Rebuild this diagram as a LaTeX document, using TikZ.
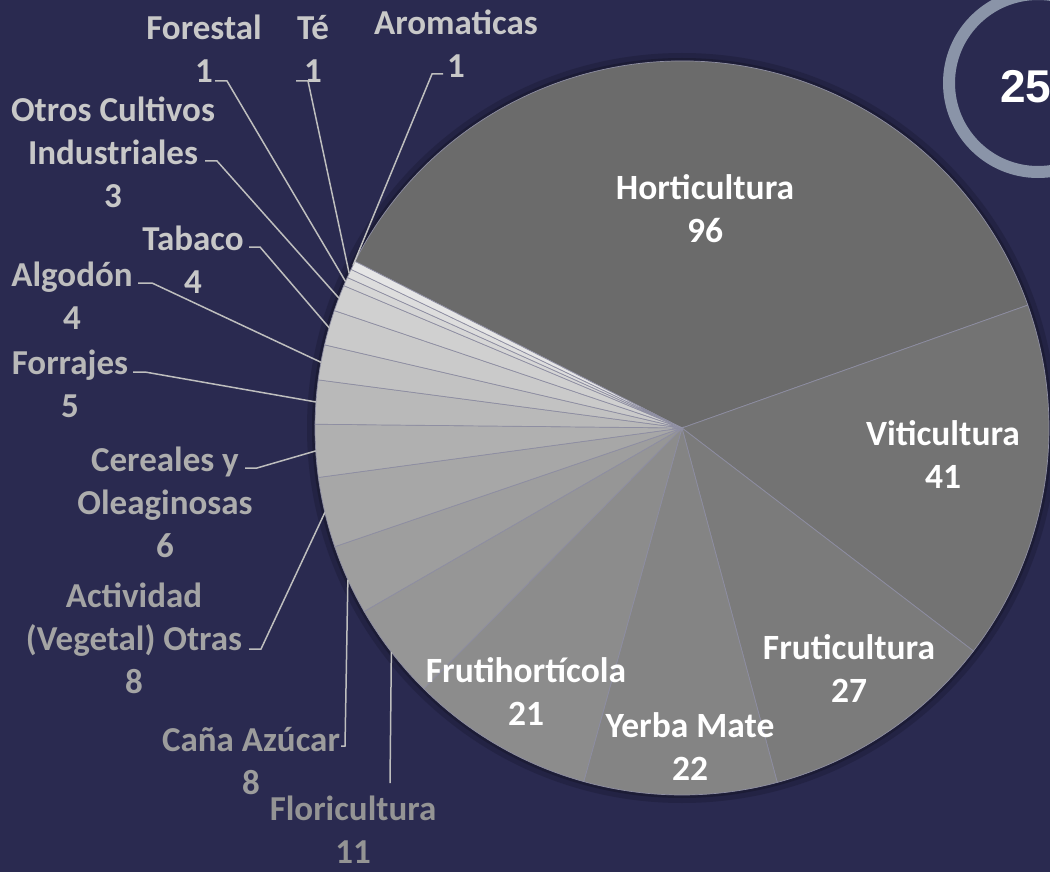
\documentclass[tikz,border=0pt]{standalone}
\usepackage{fontspec}
\setmainfont{Carlito}
\newfontfamily\ringfont{Liberation Sans}
\definecolor{bg}{HTML}{2A2A50}
\definecolor{ringc}{HTML}{8A94A8}
\definecolor{sepc}{HTML}{8E8EA2}
\definecolor{leadc}{HTML}{BEBEBE}
% slice greys, darkest first
\definecolor{g0}{HTML}{6B6B6B}
\definecolor{g1}{HTML}{737373}
\definecolor{g2}{HTML}{7B7B7B}
\definecolor{g3}{HTML}{848484}
\definecolor{g4}{HTML}{8C8C8C}
\definecolor{g5}{HTML}{969696}
\definecolor{g6}{HTML}{9E9E9E}
\definecolor{g7}{HTML}{A7A7A7}
\definecolor{g8}{HTML}{B0B0B0}
\definecolor{g9}{HTML}{B9B9B9}
\definecolor{g10}{HTML}{C2C2C2}
\definecolor{g11}{HTML}{CACACA}
\definecolor{g12}{HTML}{D0D0D0}
\definecolor{g13}{HTML}{D6D6D6}
\definecolor{g14}{HTML}{DDDDDD}
\definecolor{g15}{HTML}{E6E6E6}
% outside label greys
\definecolor{lbA}{HTML}{C8C8C8}
\definecolor{lbB}{HTML}{BEBEBE}
\definecolor{lbC}{HTML}{B8B8B8}
\definecolor{lbD}{HTML}{ADADAD}
\definecolor{lbE}{HTML}{A4A4A4}
\definecolor{lbF}{HTML}{9C9C9C}
\definecolor{lbG}{HTML}{949494}
\begin{document}
\begin{tikzpicture}[x=1pt,y=-1pt,
    slice/.style={draw=sepc,line width=0.7pt},
    inlbl/.style={text=white,font=\bfseries\fontsize{35.5}{43}\selectfont,align=center,inner sep=0pt},
    outlbl/.style={font=\bfseries\fontsize{35}{43}\selectfont,align=center,inner sep=0pt},
    leader/.style={draw=leadc,line width=1.5pt}]
  \useasboundingbox (0,0) rectangle (1050,872);
  \fill[bg] (0,0) rectangle (1050,872);
  % total ring
  \draw[ringc,line width=12pt] (1038,83) circle[radius=89];
  \node[anchor=west,inner sep=0pt,text=white,font=\ringfont\bfseries\fontsize{46}{46}\selectfont] (tot) at (1000,87) {25};
  % pie
  \coordinate (c) at (682,428);
  \fill[black,opacity=.15] (c) circle[radius=375];
  \fill[black,opacity=.2] (c) circle[radius=370];
  \draw[slice,fill=g0] (c) -- ++(-153:367) arc[start angle=-153,end angle=-19.564,radius=367] -- cycle;
  \draw[slice,fill=g1] (c) -- ++(-19.564:367) arc[start angle=-19.564,end angle=37.425,radius=367] -- cycle;
  \draw[slice,fill=g2] (c) -- ++(37.425:367) arc[start angle=37.425,end angle=74.954,radius=367] -- cycle;
  \draw[slice,fill=g3] (c) -- ++(74.954:367) arc[start angle=74.954,end angle=105.533,radius=367] -- cycle;
  \draw[slice,fill=g4] (c) -- ++(105.533:367) arc[start angle=105.533,end angle=134.722,radius=367] -- cycle;
  \draw[slice,fill=g5] (c) -- ++(134.722:367) arc[start angle=134.722,end angle=150.012,radius=367] -- cycle;
  \draw[slice,fill=g6] (c) -- ++(150.012:367) arc[start angle=150.012,end angle=161.131,radius=367] -- cycle;
  \draw[slice,fill=g7] (c) -- ++(161.131:367) arc[start angle=161.131,end angle=172.251,radius=367] -- cycle;
  \draw[slice,fill=g8] (c) -- ++(172.251:367) arc[start angle=172.251,end angle=180.591,radius=367] -- cycle;
  \draw[slice,fill=g9] (c) -- ++(180.591:367) arc[start angle=180.591,end angle=187.541,radius=367] -- cycle;
  \draw[slice,fill=g10] (c) -- ++(187.541:367) arc[start angle=187.541,end angle=193.1,radius=367] -- cycle;
  \draw[slice,fill=g11] (c) -- ++(193.1:367) arc[start angle=193.1,end angle=198.66,radius=367] -- cycle;
  \draw[slice,fill=g12] (c) -- ++(198.66:367) arc[start angle=198.66,end angle=202.83,radius=367] -- cycle;
  \draw[slice,fill=g13] (c) -- ++(202.83:367) arc[start angle=202.83,end angle=204.22,radius=367] -- cycle;
  \draw[slice,fill=g14] (c) -- ++(204.22:367) arc[start angle=204.22,end angle=205.61,radius=367] -- cycle;
  \draw[slice,fill=g15] (c) -- ++(205.61:367) arc[start angle=205.61,end angle=207,radius=367] -- cycle;
  % labels inside
  \node[inlbl] (horti) at (705,209) {Horticultura\\96};
  \node[inlbl] (viti) at (943,455) {Viticultura\\41};
  \node[inlbl] (fruti) at (849,669) {Fruticultura\\27};
  \node[inlbl] (yerba) at (690,747) {Yerba Mate\\22};
  \node[inlbl] (frutihort) at (526,692) {Frutihortícola\\21};
  % labels outside
  \node[outlbl,text=lbA] (forestal) at (204,49) {Forestal\\1};
  \node[outlbl,text=lbA] (te) at (313,49) {Té\\1};
  \node[outlbl,text=lbA] (aroma) at (456,44) {Aromaticas\\1};
  \node[outlbl,text=lbA] (otros) at (113,152) {Otros Cultivos\\Industriales\\3};
  \node[outlbl,text=lbA] (tabaco) at (193,260) {Tabaco\\4};
  \node[outlbl,text=lbB] (algodon) at (72,296) {Algodón\\4};
  \node[outlbl,text=lbC] (forrajes) at (70,384) {Forrajes\\5};
  \node[outlbl,text=lbD] (cereales) at (165,502) {Cereales y\\Oleaginosas\\6};
  \node[outlbl,text=lbE] (actividad) at (134,638) {Actividad\\(Vegetal) Otras\\8};
  \node[outlbl,text=lbF] (cana) at (251,761) {Caña Azúcar\\8};
  \node[outlbl,text=lbG] (flori) at (353,830) {Floricultura\\11};
  % slice points for the leaders
  \coordinate (pAroma) at ([shift={(206.31:367)}]c);
  \coordinate (pTe) at ([shift={(204.92:367)}]c);
  \coordinate (pForestal) at ([shift={(203.53:367)}]c);
  \coordinate (pOtros) at ([shift={(200.75:367)}]c);
  \coordinate (pTabaco) at ([shift={(195.88:367)}]c);
  \coordinate (pAlgodon) at ([shift={(190.32:367)}]c);
  \coordinate (pForrajes) at ([shift={(184.07:367)}]c);
  \coordinate (pCereales) at ([shift={(176.42:367)}]c);
  \coordinate (pActividad) at ([shift={(166.69:367)}]c);
  \coordinate (pCana) at ([shift={(155.57:367)}]c);
  \coordinate (pFlori) at ([shift={(142.37:367)}]c);
  % leader ends next to the labels
  \coordinate (lForestal) at (215,81);
  \coordinate (lTe) at (296,81);
  \coordinate (lAroma) at (443,74);
  \coordinate (lOtros) at (205,161);
  \coordinate (lTabaco) at (249,247);
  \coordinate (lAlgodon) at (138,283);
  \coordinate (lForrajes) at (133,372);
  \coordinate (lCereales) at (245,468);
  \coordinate (lActividad) at (249,649);
  \coordinate (lCana) at (341,746);
  \coordinate (lFlori) at (390,783);
  \draw[leader] (lForestal) -- ++(12,0) -- (pForestal);
  \draw[leader] (lTe) -- ++(12,0) -- (pTe);
  \draw[leader] (lAroma) -- ++(-11,0) -- (pAroma);
  \draw[leader] (lOtros) -- ++(12,0) -- (pOtros);
  \draw[leader] (lTabaco) -- ++(11,0) -- (pTabaco);
  \draw[leader] (lAlgodon) -- ++(14,0) -- (pAlgodon);
  \draw[leader] (lForrajes) -- ++(12,0) -- (pForrajes);
  \draw[leader] (lCereales) -- ++(12,0) -- (pCereales);
  \draw[leader] (lActividad) -- ++(12,0) -- (pActividad);
  \draw[leader] (lCana) -- ++(4,0) -- (pCana);
  \draw[leader] (lFlori) -- (pFlori);
\end{tikzpicture}
\end{document}
